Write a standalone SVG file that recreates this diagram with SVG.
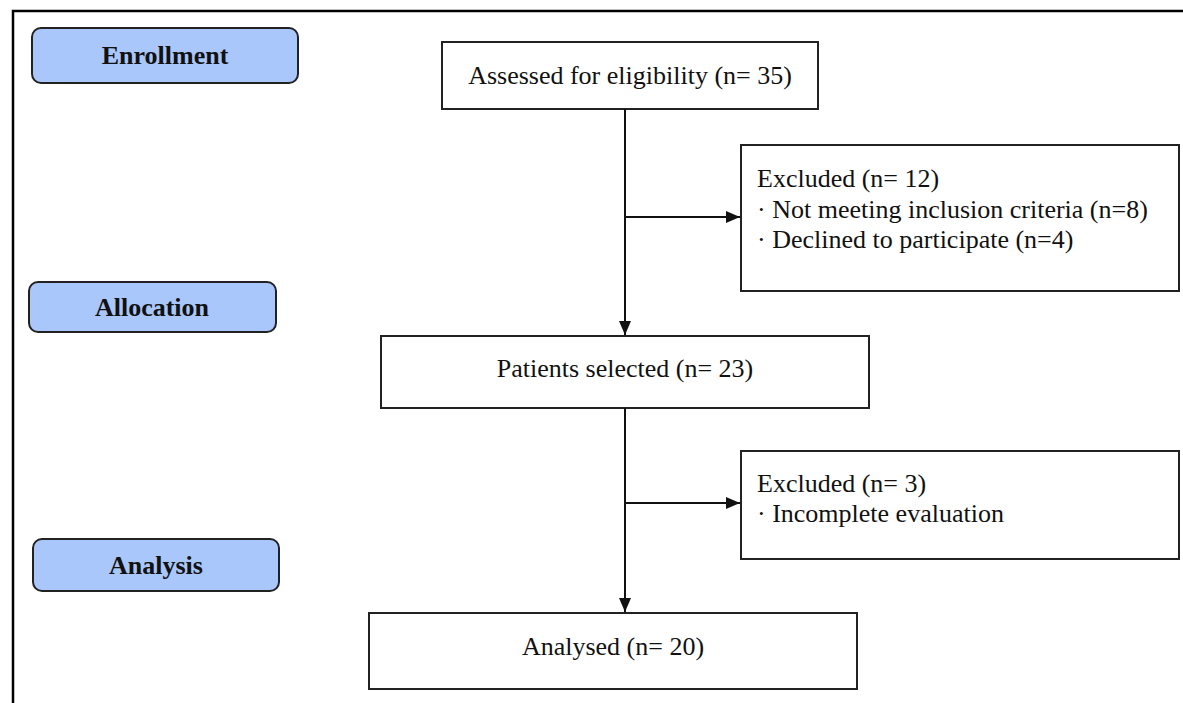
<svg xmlns="http://www.w3.org/2000/svg" width="1183" height="703" viewBox="0 0 1183 703">
<style>
.phase{fill:#a9c7fb;stroke:#222;stroke-width:2}
.phase-t{font-family:"Liberation Serif",serif;font-weight:bold;font-size:26px;fill:#111;text-anchor:middle}
.box{fill:#fff;stroke:#222;stroke-width:2}
.t{font-family:"Liberation Serif",serif;font-size:26px;fill:#111}
.c{text-anchor:middle}
.edge{stroke:#111;stroke-width:2;fill:none}
</style>
<defs>
<marker id="arr" viewBox="0 0 14 12" refX="14" refY="6" markerWidth="14" markerHeight="12" markerUnits="userSpaceOnUse" orient="auto">
<path d="M0,0 L14,6 L0,12 Z" fill="#111"/>
</marker>
</defs>
<rect width="1183" height="703" fill="#fff"/>
<path d="M13,703 V11 H1183" fill="none" stroke="#000" stroke-width="2.5"/>

<g id="enrollment"><rect class="phase" x="32" y="28" width="266" height="55" rx="9"/><text class="phase-t" x="165" y="64">Enrollment</text></g>
<g id="allocation"><rect class="phase" x="29" y="282" width="247" height="50" rx="9"/><text class="phase-t" x="152" y="316">Allocation</text></g>
<g id="analysis"><rect class="phase" x="33" y="539" width="246" height="52" rx="9"/><text class="phase-t" x="156" y="574">Analysis</text></g>

<g id="assessed"><rect class="box" x="442" y="42" width="376" height="67"/><text class="t c" x="630" y="84">Assessed for eligibility (n= 35)</text></g>
<g id="excluded1"><rect class="box" x="741" y="145" width="438" height="146"/>
<text class="t" x="757" y="187">Excluded (n= 12)</text>
<text class="t" x="757" y="218">· Not meeting inclusion criteria (n=8)</text>
<text class="t" x="757" y="248">· Declined to participate (n=4)</text></g>
<g id="selected"><rect class="box" x="381" y="336" width="488" height="72"/><text class="t c" x="625" y="377">Patients selected (n= 23)</text></g>
<g id="excluded2"><rect class="box" x="741" y="451" width="438" height="108"/>
<text class="t" x="757" y="492">Excluded (n= 3)</text>
<text class="t" x="757" y="522">· Incomplete evaluation</text></g>
<g id="analysed"><rect class="box" x="369" y="613" width="488" height="76"/><text class="t c" x="613" y="655">Analysed (n= 20)</text></g>

<g id="connectors">
<line class="edge" x1="625" y1="109" x2="625" y2="335" marker-end="url(#arr)"/>
<line class="edge" x1="625" y1="217" x2="740" y2="217" marker-end="url(#arr)"/>
<line class="edge" x1="625" y1="408" x2="625" y2="612" marker-end="url(#arr)"/>
<line class="edge" x1="625" y1="503" x2="740" y2="503" marker-end="url(#arr)"/>
</g>
</svg>
